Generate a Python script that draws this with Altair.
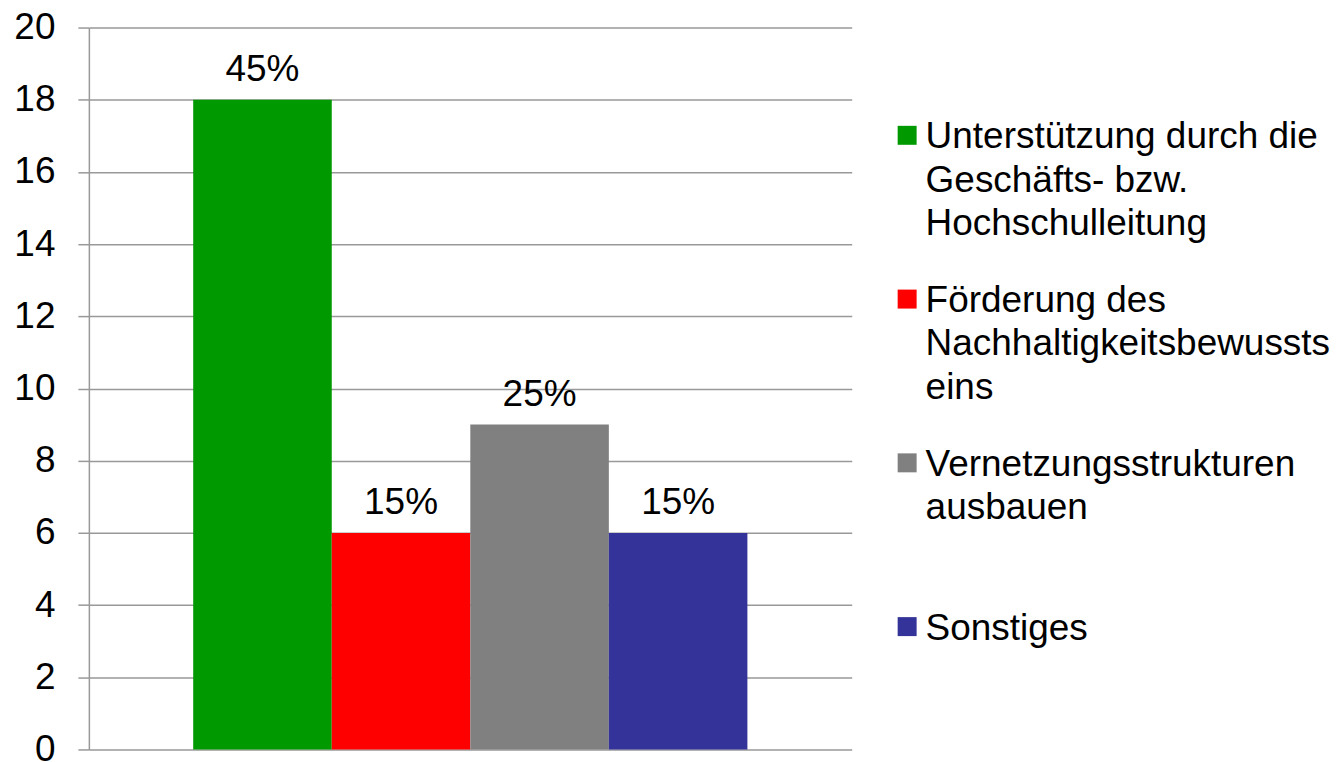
import altair as alt
import pandas as pd

categories = [
    "Unterstützung durch die Geschäfts- bzw. Hochschulleitung",
    "Förderung des Nachhaltigkeitsbewusstseins",
    "Vernetzungsstrukturen ausbauen",
    "Sonstiges",
]
legend_labels = [
    "Unterstützung durch die\nGeschäfts- bzw.\nHochschulleitung",
    "Förderung des\nNachhaltigkeitsbewussts\neins",
    "Vernetzungsstrukturen\nausbauen",
    "Sonstiges",
]
values = [18, 6, 9, 6]
percent_labels = ["45%", "15%", "25%", "15%"]
colors = ["#009900", "#FF0000", "#808080", "#333399"]
y_ticks = [0, 2, 4, 6, 8, 10, 12, 14, 16, 18, 20]

FONT = "Liberation Sans"
GRID = "#999999"
FS = 37

df = pd.DataFrame({
    "Kategorie": categories,
    "Wert": values,
    "Anteil": percent_labels,
    "Legende": legend_labels,
})

color_scale = alt.Scale(domain=categories, range=colors)

x_enc = alt.X("Kategorie:N", sort=categories,
              scale=alt.Scale(paddingInner=0, paddingOuter=0.753), axis=None)
y_enc = alt.Y("Wert:Q", scale=alt.Scale(domain=[0, 20]),
              axis=alt.Axis(values=y_ticks, title=None, tickSize=11, labelPadding=23,
                            labelFont=FONT, labelFontSize=FS, labelColor="black",
                            domainColor=GRID, tickColor=GRID, gridColor=GRID,
                            domainWidth=1.5, tickWidth=1.5, gridWidth=1.5, grid=True))

bars = alt.Chart(df).mark_bar().encode(
    x=x_enc,
    y=y_enc,
    color=alt.Color("Kategorie:N", scale=color_scale, legend=None),
)
texts = alt.Chart(df).mark_text(baseline="alphabetic", dy=-19, font=FONT,
                                fontSize=FS, color="black").encode(
    x=alt.X("Kategorie:N", sort=categories), y="Wert:Q", text="Anteil:N"
)
main = alt.layer(bars, texts).properties(width=764, height=723)

leg_y = alt.Y("Kategorie:N", sort=categories, axis=None,
              scale=alt.Scale(type="point", padding=0.634, align=0.519))
leg_sq = alt.Chart(df).mark_square(size=361, opacity=1).encode(
    x=alt.value(9.5), y=leg_y,
    color=alt.Color("Kategorie:N", scale=color_scale, legend=None),
)
leg_txt = alt.Chart(df).mark_text(align="left", baseline="alphabetic", dy=13,
                                  lineBreak="\n", lineHeight=43.5, font=FONT,
                                  fontSize=FS, color="black").encode(
    x=alt.value(28), y=leg_y, text="Legende:N"
)
legend = alt.layer(leg_sq, leg_txt).properties(width=400, height=700)

chart = alt.hconcat(main, legend, spacing=46).properties(
    padding={"left": 5, "top": 0, "right": 0, "bottom": 0}
).configure_view(strokeWidth=0).configure_concat(spacing=46)

chart.save("out.html", embed_options={"renderer": "svg", "actions": False})
